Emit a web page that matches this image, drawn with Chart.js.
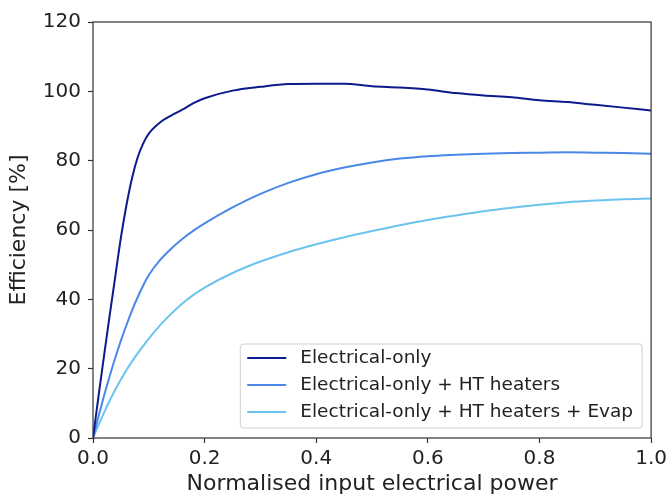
<!DOCTYPE html>
<html>
<head>
<meta charset="utf-8">
<script src="https://cdn.jsdelivr.net/npm/chart.js@4.4.0/dist/chart.umd.min.js"></script>
<style>
  html, body { margin: 0; padding: 0; background: #fff; }
  #wrap { width: 671px; height: 496px; }
</style>
</head>
<body>
<div id="wrap"><canvas id="myChart" width="671" height="496"></canvas></div>
<script>
// normalised input electrical power
var power = [0, 0.01, 0.02, 0.03, 0.04, 0.05, 0.06, 0.07, 0.08, 0.09, 0.1, 0.12, 0.14, 0.16, 0.18, 0.2,
  0.25, 0.3, 0.35, 0.4, 0.45, 0.5, 0.55, 0.6, 0.65, 0.7, 0.75, 0.8, 0.85, 0.9, 0.95, 1.0];

var elecOnly = [0, 12.2, 24, 35.5, 46.7, 57.8, 67.2, 75, 80.9, 85, 87.8, 91, 93, 94.7, 96.6, 98,
  100.2, 101.3, 102.1, 102.2, 102.2, 101.5, 101.1, 100.5, 99.5, 98.8, 98.3, 97.4, 96.9, 96.1, 95.3, 94.5];

var elecHT = [0, 6.3, 12.3, 17.9, 23.2, 28.1, 32.6, 36.8, 40.6, 44, 47, 51.3, 54.6, 57.4, 59.8, 61.9,
  66.5, 70.4, 73.6, 76.1, 78, 79.5, 80.6, 81.3, 81.7, 82, 82.2, 82.3, 82.4, 82.3, 82.2, 82];

var elecHTEvap = [0, 3.8, 7.4, 10.8, 14, 16.9, 19.6, 22.1, 24.4, 26.6, 28.7, 32.5, 35.8, 38.8, 41.3, 43.4,
  47.6, 50.9, 53.6, 55.9, 57.9, 59.7, 61.4, 62.9, 64.2, 65.4, 66.4, 67.3, 68, 68.5, 68.9, 69.1];

var seriesNames = ['Electrical-only', 'Electrical-only + HT heaters', 'Electrical-only + HT heaters + Evap'];
var seriesColors = ['#0b1a8c', '#4a87e8', '#6cc3ee'];

function pts(ys) {
  return power.map(function (p, i) { return { x: p, y: ys[i] }; });
}

var fontFam = "'DejaVu Sans', sans-serif";

// frame around the plot area + legend drawn inside the plot
var framePlugin = {
  id: 'frame',
  afterDraw: function (chart) {
    var c = chart.ctx, a = chart.chartArea;
    c.save();
    c.strokeStyle = '#333';
    c.lineWidth = 1.2;
    c.strokeRect(a.left, a.top, a.right - a.left, a.bottom - a.top);

    // legend box
    c.font = '18.5px ' + fontFam;
    var maxW = 0;
    chart.data.datasets.forEach(function (d) { maxW = Math.max(maxW, c.measureText(d.label).width); });
    var bw = 60 + maxW + 9, bh = 84;
    var bx = a.right - 9 - bw, by = a.bottom - 10 - bh;
    c.fillStyle = 'rgba(255,255,255,0.85)';
    c.strokeStyle = '#d0d0d0';
    c.lineWidth = 1;
    c.beginPath();
    c.roundRect(bx, by, bw, bh, 3);
    c.fill();
    c.stroke();
    c.textBaseline = 'middle';
    c.textAlign = 'left';
    chart.data.datasets.forEach(function (d, i) {
      var yy = by + 14 + i * 27;
      c.strokeStyle = d.borderColor;
      c.lineWidth = 2;
      c.beginPath();
      c.moveTo(bx + 7, yy);
      c.lineTo(bx + 46, yy);
      c.stroke();
      c.fillStyle = '#222';
      c.fillText(d.label, bx + 60, yy);
    });
    c.restore();
  }
};

var ctx = document.getElementById('myChart').getContext('2d');
var myChart = new Chart(ctx, {
  type: 'line',
  data: {
    datasets: [0, 1, 2].map(function (k) {
      return {
        label: seriesNames[k],
        data: pts([elecOnly, elecHT, elecHTEvap][k]),
        borderColor: seriesColors[k],
        backgroundColor: seriesColors[k],
        borderWidth: 2,
        pointRadius: 0,
        cubicInterpolationMode: 'monotone',
        fill: false
      };
    })
  },
  options: {
    responsive: false,
    animation: false,
    layout: { padding: { top: 22, right: 18, left: 0, bottom: 0 } },
    plugins: {
      legend: { display: false },
      tooltip: { enabled: false }
    },
    scales: {
      x: {
        type: 'linear',
        min: 0,
        max: 1,
        border: { display: false },
        grid: { drawOnChartArea: false, tickLength: 5, tickColor: '#333', tickWidth: 1.2 },
        ticks: {
          stepSize: 0.2,
          padding: 4,
          color: '#222',
          font: { family: fontFam, size: 20 },
          callback: function (v) { return v.toFixed(1); }
        },
        title: {
          display: true,
          text: 'Normalised input electrical power',
          color: '#222',
          font: { family: fontFam, size: 22 },
          padding: { top: 0, bottom: -1 }
        },
        afterFit: function (s) { s.height = 58; }
      },
      y: {
        min: 0,
        max: 120,
        border: { display: false },
        grid: { drawOnChartArea: false, tickLength: 5, tickColor: '#333', tickWidth: 1.2 },
        ticks: {
          stepSize: 20,
          padding: 7,
          color: '#222',
          font: { family: fontFam, size: 20 }
        },
        title: {
          display: true,
          text: 'Efficiency [%]',
          color: '#222',
          font: { family: fontFam, size: 22 },
          padding: { top: 6.5, bottom: 0 }
        },
        afterFit: function (s) { s.width = 93; }
      }
    }
  },
  plugins: [framePlugin]
});
</script>
</body>
</html>
